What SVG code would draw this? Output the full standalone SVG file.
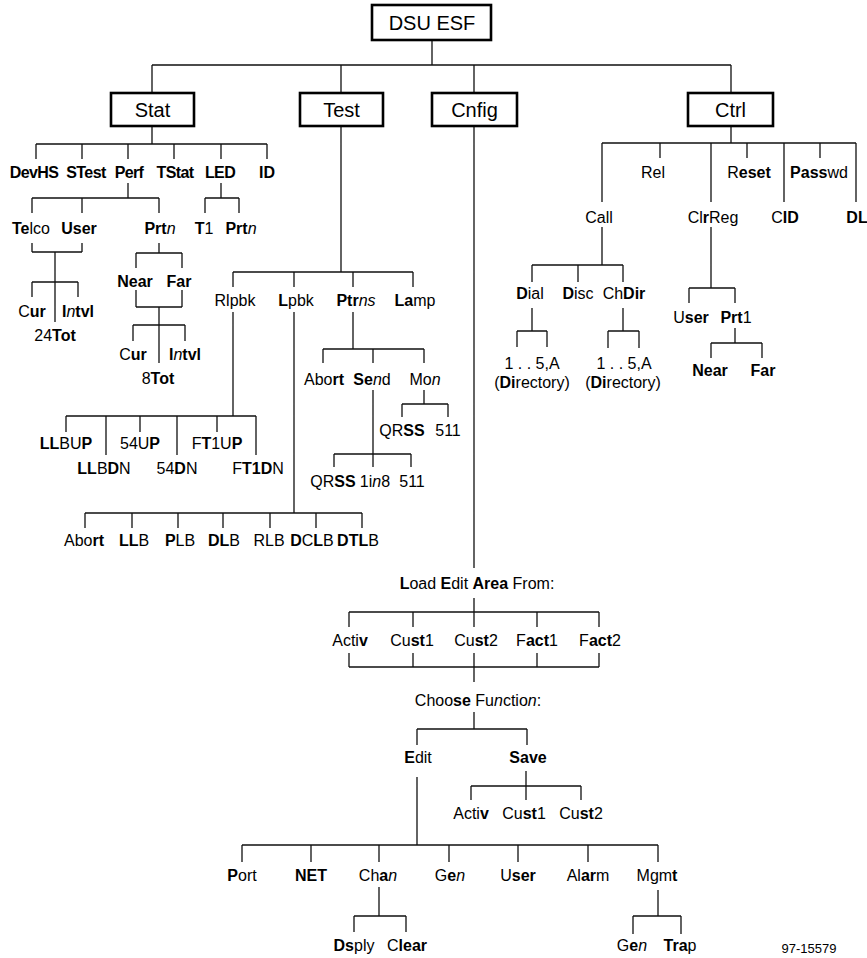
<svg xmlns="http://www.w3.org/2000/svg" width="867" height="958" viewBox="0 0 867 958">
<style>
.bg{fill:#fff}
.box{fill:#fff;stroke:#000;stroke-width:2.6}
.bt{font-family:"Liberation Sans",Arial,sans-serif;font-size:20px;text-anchor:middle;fill:#000}
.t{font-family:"Liberation Sans",Arial,sans-serif;font-size:16px;text-anchor:middle;fill:#000}
.b{font-weight:bold}
.i{font-style:italic}
.k{letter-spacing:-0.6px}
.ln{fill:none;stroke:#111;stroke-width:1.3}
.fn{font-family:"Liberation Sans",Arial,sans-serif;font-size:13px;text-anchor:middle;fill:#000}
</style>
<rect class="bg" x="0" y="0" width="867" height="958"/>
<g id="connectors">
<path class="ln" d="M432 40V65M152 65H731M152 65V93M341 65V93M474 65V93M731 65V93
M152 126V144M36 144H267M36 144V159M82 144V159M128 144V159M174 144V159M221 144V159M267 144V159
M128 183V198M32 198H159M32 198V213M82 198V213M159 198V213
M221 183V198M205 198H239M205 198V213M239 198V213
M32 243V252M82 243V252M32 252H82M55 252V322M32 282H78M32 282V297M78 282V297
M159 243V253M136 253H182M136 253V268M182 253V268
M136 290V307M182 290V307M136 307H182M159 307V363M133 325H185M133 325V341M185 325V341
M341 126V272M233 272H413M233 272V287M294 272V287M353 272V287M413 272V287
M233 312V416M66 416H256M66 416V432M106 416V455M140 416V432M177 416V455M217 416V432M256 416V455
M294 312V513M85 513H362M85 513V528M132 513V528M178 513V528M223 513V528M270 513V528M316 513V528M362 513V528
M353 312V349M323 349H424M323 349V363M373 349V363M424 349V363
M373 390V454M334 454H411M334 454V467M373 454V467M411 454V467
M424 390V404M402 404H448M402 404V417M448 404V417
M731 126V143M602 143H856M660 143V158M747 143V158M820 143V158M602 143V202M711 143V202M784 143V202M856 143V202
M602 227V265M532 265H623M532 265V282M578 265V282M623 265V282
M532 308V331M517 331H547M517 331V347M547 331V347
M623 308V331M608 331H639M608 331V348M639 331V348
M711 227V288M689 288H735M689 288V303M735 288V303
M735 328V343M711 343H762M711 343V358M762 343V358
M474 126V568M474 598V612M349 612H599M349 612V627M413 612V627M474 612V627M537 612V627M599 612V627
M349 653V667M413 653V667M474 653V667M537 653V667M599 653V667M349 667H599M474 667V682
M474 712V729M417 729H527M417 729V745M527 729V745
M417 777V845M526 771V786M471 786H581M471 786V800M526 786V800M581 786V800
M242 845H658M242 845V862M311 845V862M379 845V862M449 845V862M518 845V862M588 845V862M658 845V862
M379 887V916M354 916H406M354 916V932M406 916V932
M658 890V916M633 916H681M633 916V934M681 916V934"/>
</g>
<g id="dsu"><rect class="box" x="372" y="5" width="119" height="35"/><text class="bt" x="432" y="29.5">DSU ESF</text></g>
<g id="stat"><rect class="box" x="111" y="93" width="83" height="33"/><text class="bt" x="152.5" y="116.5">Stat</text></g>
<g id="test"><rect class="box" x="300" y="93" width="83" height="33"/><text class="bt" x="341.5" y="116.5">Test</text></g>
<g id="cnfig"><rect class="box" x="432" y="93" width="85" height="33"/><text class="bt" x="474.5" y="116.5">Cnfig</text></g>
<g id="ctrl"><rect class="box" x="688" y="93" width="85" height="33"/><text class="bt" x="730.5" y="116.5">Ctrl</text></g>

<g id="stat-children">
<text class="t b k" x="34" y="178">DevHS</text>
<text class="t b k" x="86" y="178">STest</text>
<text class="t b k" x="129" y="178">Perf</text>
<text class="t b k" x="175" y="178">TStat</text>
<text class="t b k" x="220" y="178">LED</text>
<text class="t b" x="267" y="178">ID</text>
</g>
<g id="perf-children">
<text class="t" x="31" y="234"><tspan class="b">Te</tspan>lco</text>
<text class="t b" x="79" y="234">User</text>
<text class="t" x="160" y="234"><tspan class="b">Prt</tspan><tspan class="i">n</tspan></text>
<text class="t" x="32" y="317">C<tspan class="b">ur</tspan></text>
<text class="t" x="78" y="317"><tspan class="b">I</tspan><tspan class="i">n</tspan><tspan class="b">tvl</tspan></text>
<text class="t" x="55" y="341">24<tspan class="b">Tot</tspan></text>
<text class="t b" x="135" y="287">Near</text>
<text class="t b" x="179" y="287">Far</text>
<text class="t" x="133" y="360">C<tspan class="b">ur</tspan></text>
<text class="t" x="185" y="360"><tspan class="b">I</tspan><tspan class="i">n</tspan><tspan class="b">tvl</tspan></text>
<text class="t" x="158" y="384">8<tspan class="b">Tot</tspan></text>
</g>
<g id="led-children">
<text class="t" x="204" y="234"><tspan class="b">T</tspan>1</text>
<text class="t" x="241" y="234"><tspan class="b">Prt</tspan><tspan class="i">n</tspan></text>
</g>
<g id="test-children">
<text class="t" x="235" y="306">Rlpbk</text>
<text class="t" x="296" y="306"><tspan class="b">L</tspan>pbk</text>
<text class="t" x="356" y="306"><tspan class="b">Ptr</tspan><tspan class="i">ns</tspan></text>
<text class="t" x="415" y="306"><tspan class="b">La</tspan>mp</text>
</g>
<g id="rlpbk-children">
<text class="t" x="66" y="449"><tspan class="b">LL</tspan>BU<tspan class="b">P</tspan></text>
<text class="t" x="104" y="474"><tspan class="b">LL</tspan>B<tspan class="b">D</tspan>N</text>
<text class="t" x="140" y="449">54U<tspan class="b">P</tspan></text>
<text class="t" x="177" y="474">54<tspan class="b">D</tspan>N</text>
<text class="t" x="217" y="449">F<tspan class="b">T</tspan>1U<tspan class="b">P</tspan></text>
<text class="t" x="258" y="474">F<tspan class="b">T1D</tspan>N</text>
</g>
<g id="lpbk-children">
<text class="t" x="84" y="546">Abo<tspan class="b">rt</tspan></text>
<text class="t" x="134" y="546"><tspan class="b">LL</tspan>B</text>
<text class="t" x="180" y="546"><tspan class="b">P</tspan>LB</text>
<text class="t" x="224" y="546"><tspan class="b">DL</tspan>B</text>
<text class="t" x="269" y="546">RLB</text>
<text class="t" x="312" y="546"><tspan class="b">D</tspan>C<tspan class="b">L</tspan>B</text>
<text class="t" x="358" y="546"><tspan class="b">DTL</tspan>B</text>
</g>
<g id="ptrns-children">
<text class="t" x="324" y="385">Abo<tspan class="b">rt</tspan></text>
<text class="t" x="372" y="385"><tspan class="b">Se</tspan><tspan class="i">n</tspan>d</text>
<text class="t" x="425" y="385">Mo<tspan class="i">n</tspan></text>
<text class="t" x="402" y="436">QR<tspan class="b">SS</tspan></text>
<text class="t" x="448" y="436">511</text>
<text class="t" x="333" y="487">QR<tspan class="b">SS</tspan></text>
<text class="t" x="375" y="487">1i<tspan class="i">n</tspan>8</text>
<text class="t" x="412" y="487">511</text>
</g>
<g id="ctrl-children">
<text class="t" x="653" y="178">Rel</text>
<text class="t" x="749" y="178">R<tspan class="b">eset</tspan></text>
<text class="t" x="819" y="178"><tspan class="b">Pass</tspan>wd</text>
<text class="t" x="599" y="223">Call</text>
<text class="t" x="713" y="223">Cl<tspan class="b">r</tspan>Reg</text>
<text class="t" x="785" y="223">C<tspan class="b">ID</tspan></text>
<text class="t b" x="857" y="223">DL</text>
</g>
<g id="call-children">
<text class="t" x="530" y="299"><tspan class="b">D</tspan>ial</text>
<text class="t" x="578" y="299"><tspan class="b">D</tspan>isc</text>
<text class="t" x="624" y="299">Ch<tspan class="b">Dir</tspan></text>
<text class="t" x="532" y="369">1 . . 5,A</text>
<text class="t" x="532" y="388">(<tspan class="b">Di</tspan>rectory)</text>
<text class="t" x="624" y="369">1 . . 5,A</text>
<text class="t" x="623" y="388">(<tspan class="b">Di</tspan>rectory)</text>
</g>
<g id="clrreg-children">
<text class="t" x="691" y="323">U<tspan class="b">ser</tspan></text>
<text class="t" x="736" y="323"><tspan class="b">Prt</tspan>1</text>
<text class="t b" x="710" y="376">Near</text>
<text class="t b" x="763" y="376">Far</text>
</g>
<g id="load-edit">
<text class="t" x="477" y="589"><tspan class="b">L</tspan>oad <tspan class="b">E</tspan>dit <tspan class="b">Area</tspan> From:</text>
<text class="t" x="350" y="646">Acti<tspan class="b">v</tspan></text>
<text class="t" x="412" y="646">Cu<tspan class="b">st</tspan>1</text>
<text class="t" x="476" y="646">Cu<tspan class="b">st</tspan>2</text>
<text class="t" x="537" y="646">F<tspan class="b">act</tspan>1</text>
<text class="t" x="600" y="646">F<tspan class="b">act</tspan>2</text>
</g>
<g id="choose-function">
<text class="t" x="478" y="706">Choo<tspan class="b">se</tspan> Fu<tspan class="i">n</tspan>ctio<tspan class="i">n</tspan>:</text>
<text class="t" x="418" y="763"><tspan class="b">E</tspan>dit</text>
<text class="t b" x="528" y="763">Save</text>
</g>
<g id="save-children">
<text class="t" x="471" y="819">Acti<tspan class="b">v</tspan></text>
<text class="t" x="524" y="819">Cu<tspan class="b">st</tspan>1</text>
<text class="t" x="581" y="819">Cu<tspan class="b">st</tspan>2</text>
</g>
<g id="edit-children">
<text class="t" x="242" y="881"><tspan class="b">P</tspan>ort</text>
<text class="t b" x="311" y="881">NET</text>
<text class="t" x="378" y="881">Ch<tspan class="b">a</tspan><tspan class="i">n</tspan></text>
<text class="t" x="450" y="881">G<tspan class="b">e</tspan><tspan class="i">n</tspan></text>
<text class="t" x="518" y="881">U<tspan class="b">ser</tspan></text>
<text class="t" x="588" y="881">Al<tspan class="b">ar</tspan>m</text>
<text class="t" x="657" y="881">Mgm<tspan class="b">t</tspan></text>
<text class="t" x="354" y="951"><tspan class="b">Ds</tspan>ply</text>
<text class="t" x="407" y="951">C<tspan class="b">lear</tspan></text>
<text class="t" x="632" y="951">G<tspan class="b">e</tspan><tspan class="i">n</tspan></text>
<text class="t" x="680" y="951"><tspan class="b">Tra</tspan>p</text>
</g>
<text class="fn" x="809" y="953">97-15579</text>
</svg>
